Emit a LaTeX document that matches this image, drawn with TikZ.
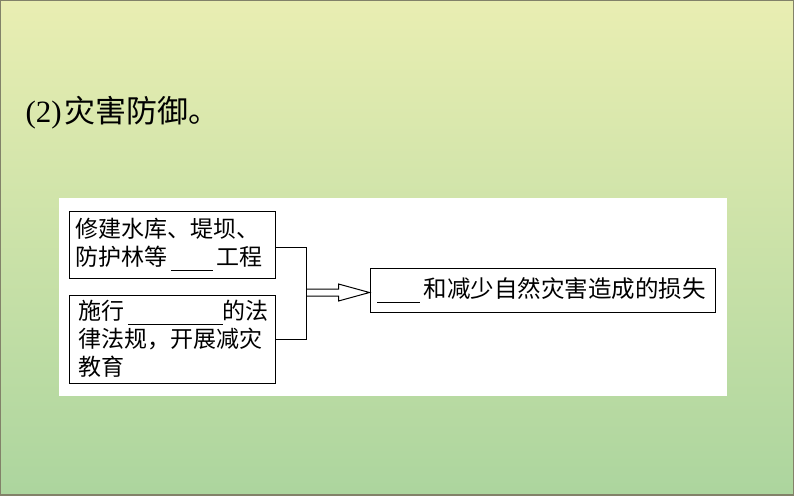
\documentclass[tikz,border=0pt]{standalone}
\usepackage{fontspec}
\setmainfont{Liberation Serif}
\newfontfamily\cjk{Noto Sans CJK SC}
\newcommand{\blank}[1]{\rule[-5pt]{#1}{.9pt}}
\definecolor{bgtop}{RGB}{233,238,178}
\definecolor{bgbot}{RGB}{172,213,158}
\definecolor{rim}{RGB}{130,130,105}
\usetikzlibrary{calc}
\begin{document}
\begin{tikzpicture}[x=1pt,y=-1pt,line width=1pt,
  box/.style={draw,fill=white,align=left,inner xsep=6pt,inner ysep=0pt,
    font=\cjk\fontsize{23pt}{28pt}\selectfont}]
  \useasboundingbox (0,0) rectangle (794,495);
  \shade[top color=bgtop,bottom color=bgbot] (0,0) rectangle (794,495);
  \draw[rim,line width=1.5pt] (0,0) rectangle (794,495);
  \fill[white] (59,198) rectangle (727,396);
  \node[anchor=base west,inner sep=0pt,font=\fontsize{31pt}{33pt}\selectfont] (title) at (25,122) {(2)\kern3pt\cjk 灾害防御。};
  \node[box,text width=194pt,minimum height=67pt] (dam) at (172,244.5) {修建水库、堤坝、\\防护林等\,\blank{42pt}\,工程};
  \node[box,text width=188pt,inner xsep=9pt,minimum height=88pt] (law) at (172,339) {施行\,\blank{95pt}的法\\律法规，开展减灾\\教育};
  \node[box,text width=331pt,inner xsep=7pt,minimum height=44pt,font=\cjk\fontsize{23.5pt}{28pt}\selectfont] (goal) at (542.5,290) {\blank{43pt}\,和减少自然灾害造成的损失};
  \draw ([yshift=-3pt]dam.east) -- ++(31,0) coordinate (j) |- (law.east);
  \coordinate (tip) at ([yshift=-2.5pt]goal.west);
  \coordinate (tail) at (j |- tip);
  \draw (tail) ++(0,-3.5) -- ++(32,0) -- ++(0,-5) -- (tip) -- ([shift={(32,8.5)}]tail) -- ++(0,-5) -- ++(-32,0);
\end{tikzpicture}
\end{document}
